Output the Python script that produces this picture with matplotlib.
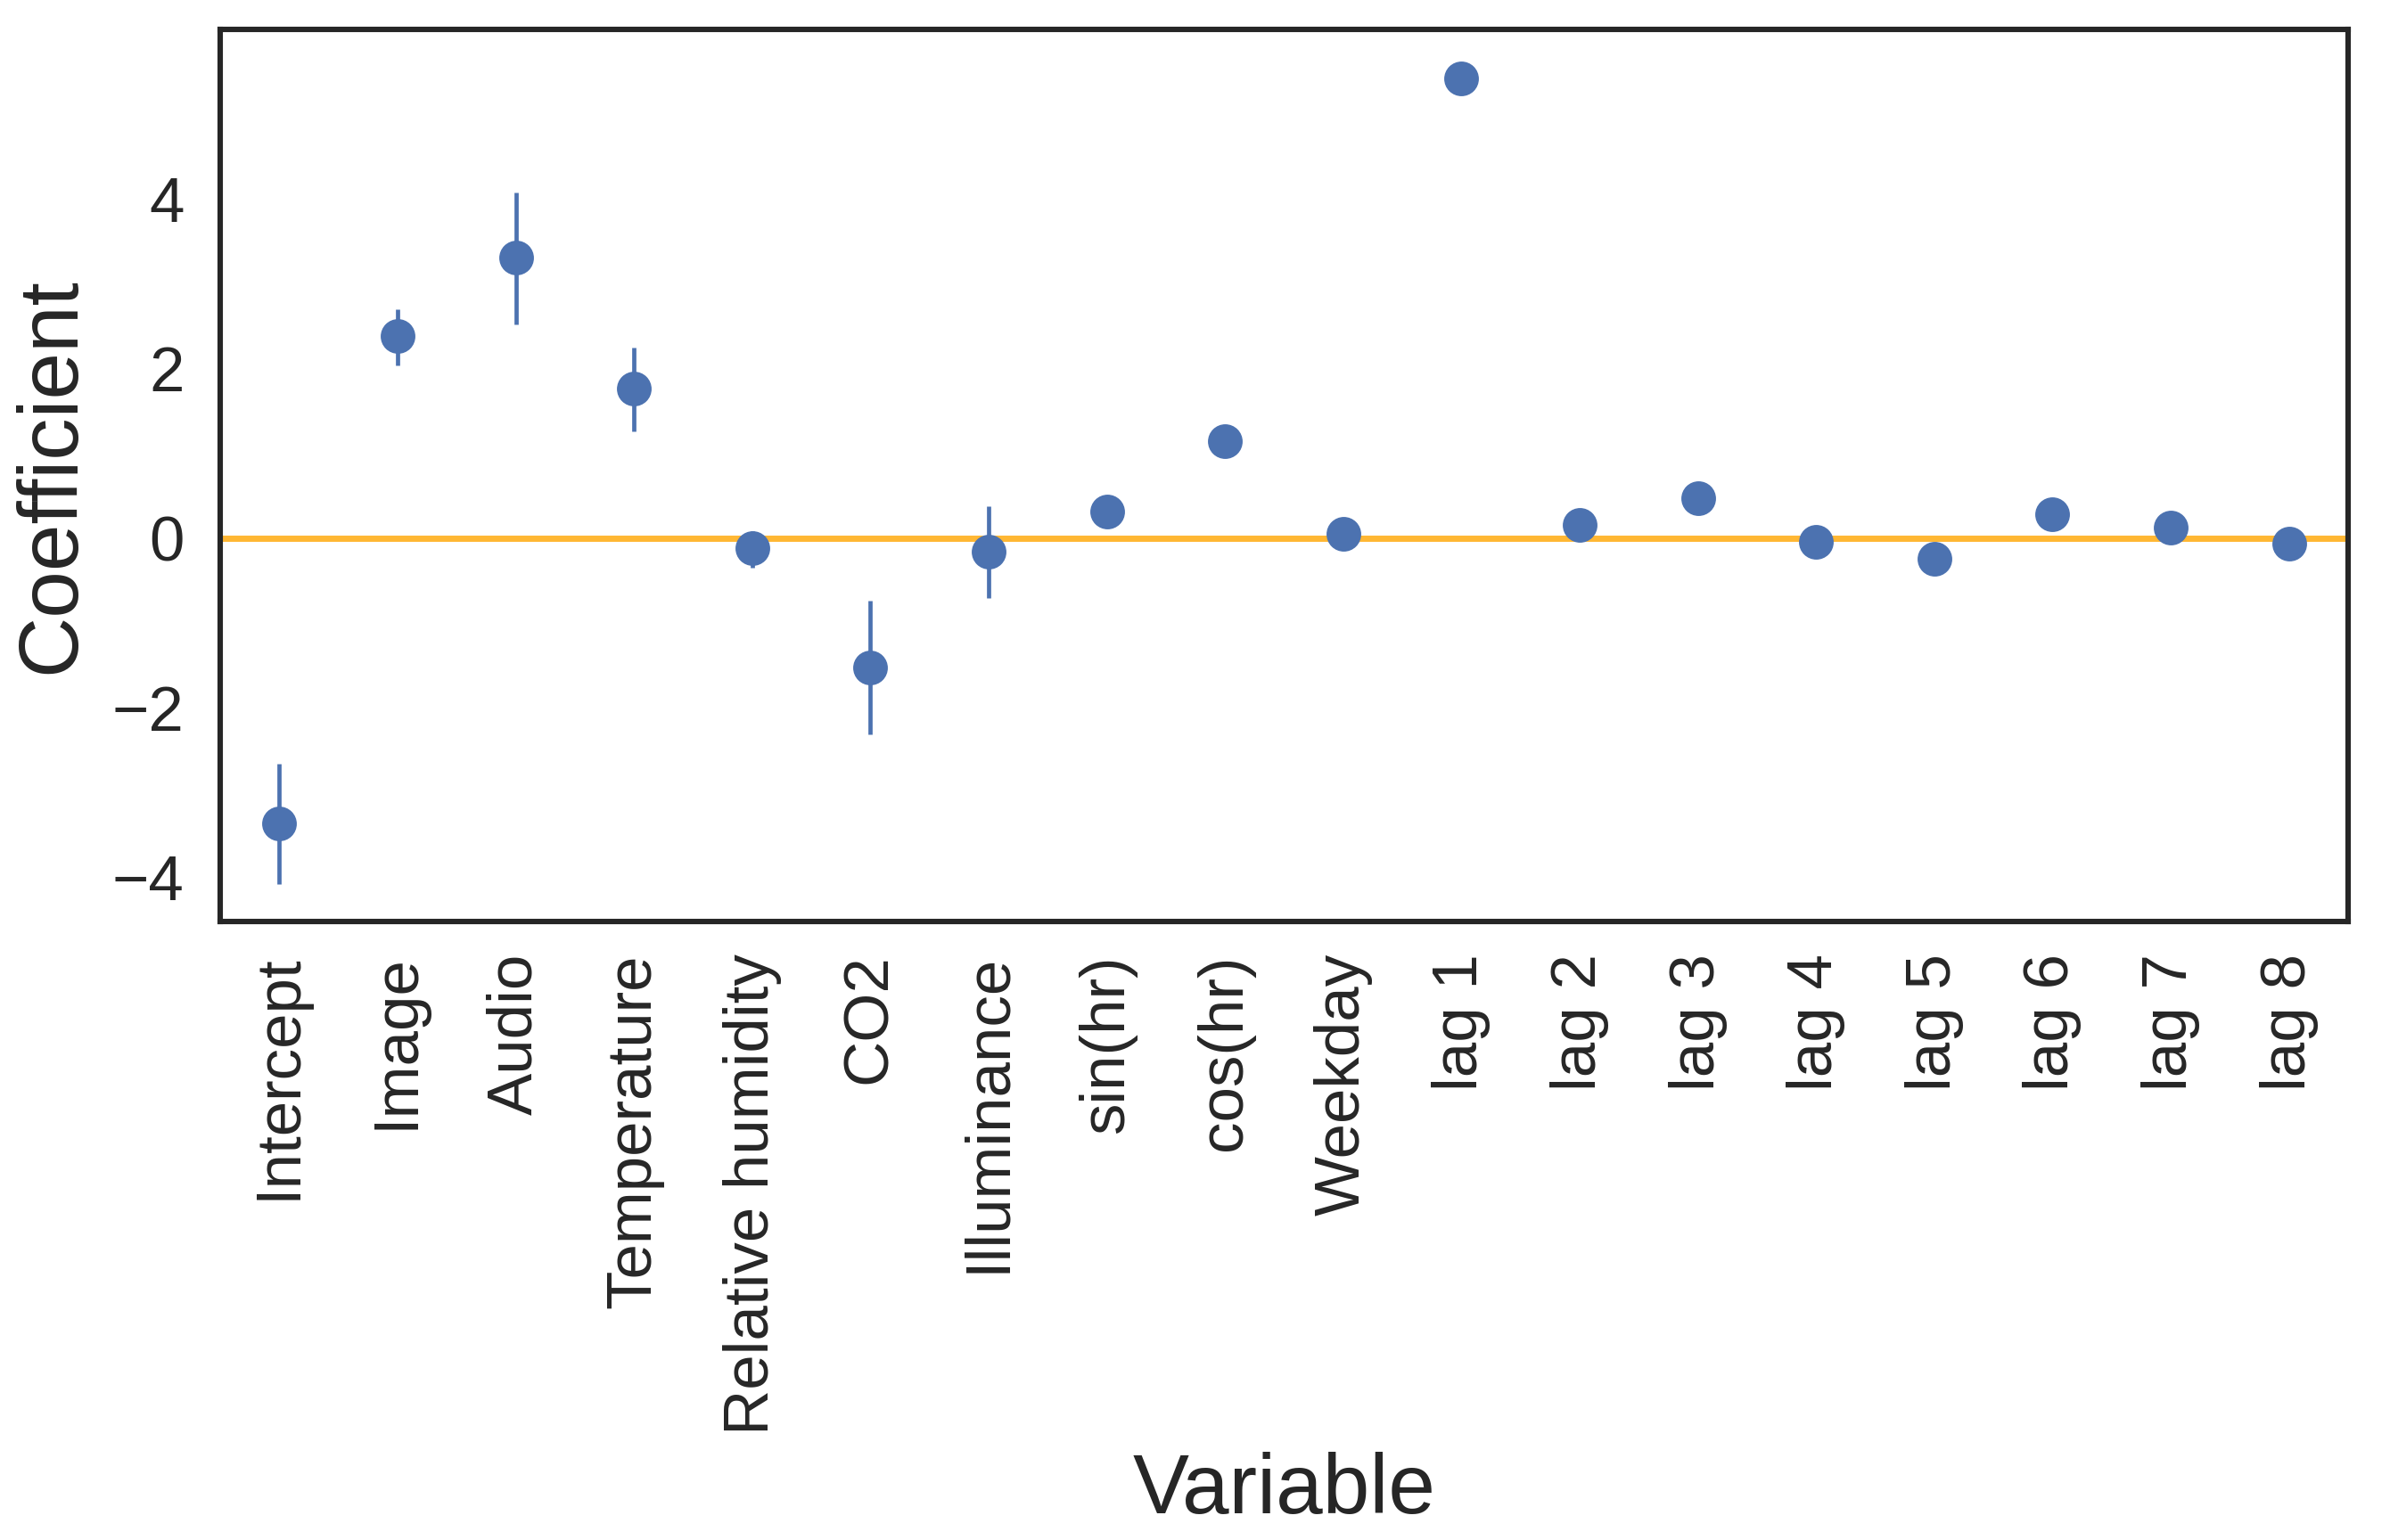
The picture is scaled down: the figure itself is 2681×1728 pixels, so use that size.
import numpy as np
import matplotlib
matplotlib.use("Agg")
import matplotlib.pyplot as plt

plt.rcParams['font.family'] = ['Liberation Sans', 'DejaVu Sans']

variables = ["Intercept", "Image", "Audio", "Temperature", "Relative humidity",
             "CO2", "Illuminance", "sin(hr)", "cos(hr)", "Weekday",
             "lag 1", "lag 2", "lag 3", "lag 4", "lag 5", "lag 6", "lag 7", "lag 8"]
coef = [-3.36, 2.38, 3.31, 1.76, -0.12, -1.52, -0.16, 0.31, 1.14, 0.05,
        5.42, 0.16, 0.47, -0.04, -0.24, 0.28, 0.12, -0.06]
ci_low = [-4.08, 2.04, 2.52, 1.26, -0.35, -2.31, -0.71, 0.31, 1.14, 0.05,
          5.42, 0.16, 0.47, -0.04, -0.24, 0.28, 0.12, -0.06]
ci_high = [-2.66, 2.70, 4.08, 2.25, 0.08, -0.74, 0.38, 0.31, 1.14, 0.05,
           5.42, 0.16, 0.47, -0.04, -0.24, 0.28, 0.12, -0.06]

dark = '#262626'
blue = '#4C72B0'

W, H, dpi = 2681, 1728, 200
fig = plt.figure(figsize=(W / dpi, H / dpi), dpi=dpi)
ax = fig.add_axes([247 / W, 1 - 1034 / H, (2634 - 247) / W, (1034 - 33) / H])

x = np.arange(len(variables))
coef = np.array(coef)
err = np.array([coef - np.array(ci_low), np.array(ci_high) - coef])

ax.errorbar(x, coef, yerr=err, fmt='o', color=blue, ms=14, elinewidth=1.7,
            capsize=0, mew=0)
ax.axhline(0, color='orange', alpha=0.8, lw=2.5)

ax.set_xlim(-0.5, len(variables) - 0.5)
ax.set_ylim(-4.52, 6.0)
ax.set_yticks([-4, -2, 0, 2, 4])
ax.set_xticks(x)
ax.set_xticklabels(variables, rotation=90)

for s in ax.spines.values():
    s.set_color(dark)
    s.set_linewidth(2.2)

ax.tick_params(axis='both', length=0, labelsize=25.5, colors=dark)
ax.tick_params(axis='y', pad=14.5)
ax.tick_params(axis='x', pad=13)

ax.set_xlabel("Variable", fontsize=34, color=dark, labelpad=7)
ax.set_ylabel("Coefficient", fontsize=34, color=dark, labelpad=8)

fig.savefig("out.png", dpi=dpi)
